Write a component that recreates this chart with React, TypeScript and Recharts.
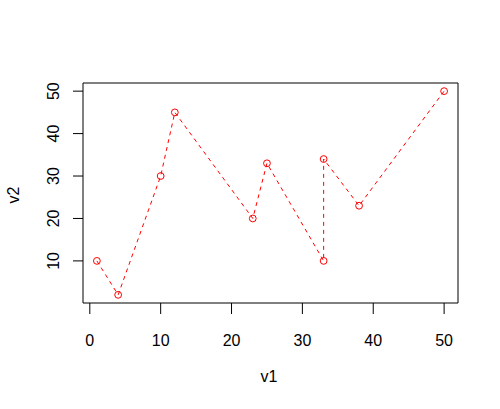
import React from "react";
import { LineChart, Line, XAxis, YAxis, ReferenceArea } from "recharts";

const v1 = [1, 4, 10, 12, 23, 25, 33, 33, 38, 50];
const v2 = [10, 2, 30, 45, 20, 33, 10, 34, 23, 50];
const xTicks = [0, 10, 20, 30, 40, 50];
const yTicks = [10, 20, 30, 40, 50];

const data = v1.map((x, i) => ({ v1: x, v2: v2[i] }));

const FONT = "'Liberation Sans', Arial, sans-serif";

const XTick = (props: any) => {
  const { x, y, payload } = props;
  return (
    <text x={x} y={y + 30} textAnchor="middle" fontFamily={FONT} fontSize={16} fill="#000">
      {payload.value}
    </text>
  );
};

const YTick = (props: any) => {
  const { x, y, payload } = props;
  const bx = x - 11.5;
  return (
    <text
      x={bx}
      y={y}
      textAnchor="middle"
      transform={`rotate(-90 ${bx} ${y})`}
      fontFamily={FONT}
      fontSize={16}
      fill="#000"
    >
      {payload.value}
    </text>
  );
};

const Dot = (props: any) => {
  const { cx, cy } = props;
  return <circle cx={cx} cy={cy} r={3.4} fill="none" stroke="#ff0000" strokeWidth={1} />;
};

export default function App() {
  return (
    <div style={{ position: "absolute", left: 0, top: 0, width: 500, height: 409, background: "#fff" }}>
      <LineChart
        width={500}
        height={409}
        data={data}
        margin={{ top: 83, right: 42, bottom: 0, left: 0 }}
      >
        <XAxis
          dataKey="v1"
          type="number"
          domain={[-0.96, 51.96]}
          ticks={xTicks}
          allowDataOverflow
          height={106}
          tickSize={11}
          tickLine={{ stroke: "#000" }}
          axisLine={false}
          tick={<XTick />}
          interval={0}
        />
        <YAxis
          dataKey="v2"
          type="number"
          domain={[0.08, 51.92]}
          ticks={yTicks}
          allowDataOverflow
          width={83}
          tickSize={10}
          tickLine={{ stroke: "#000" }}
          axisLine={false}
          tick={<YTick />}
          interval={0}
        />
        <ReferenceArea
          x1={-0.96}
          x2={51.96}
          y1={0.08}
          y2={51.92}
          fill="none"
          fillOpacity={0}
          stroke="#000"
          strokeWidth={1}
          strokeOpacity={1}
          ifOverflow="visible"
        />
        <Line
          type="linear"
          dataKey="v2"
          stroke="#ff0000"
          strokeWidth={1}
          strokeDasharray="4 4"
          dot={<Dot />}
          activeDot={false}
          isAnimationActive={false}
        />
      </LineChart>
      <svg
        width={500}
        height={409}
        style={{ position: "absolute", left: 0, top: 0, pointerEvents: "none" }}
      >
        <text x={269} y={382} textAnchor="middle" fontFamily={FONT} fontSize={16} fill="#000">
          v1
        </text>
        <text
          x={19}
          y={195}
          textAnchor="middle"
          transform="rotate(-90 19 195)"
          fontFamily={FONT}
          fontSize={16}
          fill="#000"
        >
          v2
        </text>
      </svg>
    </div>
  );
}
